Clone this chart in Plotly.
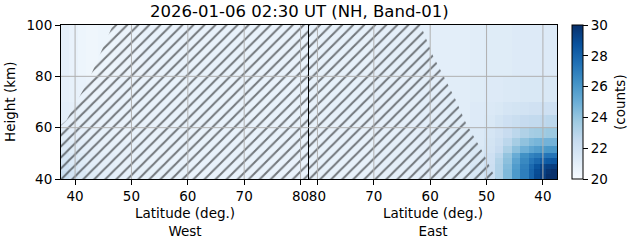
import plotly.graph_objects as go

# ---------------- data ----------------
# West panel: cell edges and values (counts)
west_lat_edges = [37.5, 39, 40.5, 42, 44, 47, 52, 60, 70, 81.5]
west_h_edges = [40, 43, 46, 50, 55, 60, 70, 80, 90, 100]
west_counts = [
    [22.3, 21.9, 21.5, 21.2, 21.0, 20.9, 20.8, 20.7, 20.7],
    [22.0, 21.6, 21.3, 21.1, 20.9, 20.8, 20.8, 20.7, 20.7],
    [21.7, 21.4, 21.2, 21.0, 20.9, 20.8, 20.7, 20.7, 20.7],
    [21.4, 21.2, 21.0, 20.9, 20.8, 20.8, 20.7, 20.7, 20.7],
    [21.2, 21.0, 20.9, 20.8, 20.8, 20.7, 20.7, 20.7, 20.7],
    [21.0, 20.9, 20.8, 20.8, 20.7, 20.7, 20.7, 20.7, 20.7],
    [20.9, 20.8, 20.7, 20.6, 20.6, 20.7, 20.7, 20.7, 20.7],
    [20.9, 20.7, 20.5, 20.4, 20.5, 20.6, 20.7, 20.7, 20.7],
    [20.9, 20.7, 20.5, 20.4, 20.5, 20.6, 20.7, 20.7, 20.7],
]

# East panel
east_lat_edges = [37.5, 38.5, 39.5, 40.5, 41.5, 42.5, 44, 45.5, 47, 48.5, 50.5, 53, 57, 62, 70, 81.5]
east_h_edges = [40, 42, 44, 46, 48, 50, 53, 56, 60, 65, 70, 80, 100]
east_counts = [
    [30.3, 30.0, 29.5, 29.0, 28.0, 27.0, 25.9, 24.5, 23.2, 22.2, 21.6, 21.2, 21.0, 20.9, 20.8],
    [30.0, 29.8, 29.4, 28.9, 28.0, 27.0, 25.9, 24.5, 23.2, 22.2, 21.6, 21.2, 21.0, 20.9, 20.8],
    [29.5, 29.4, 29.2, 28.6, 27.8, 26.9, 25.8, 24.4, 23.2, 22.2, 21.6, 21.2, 21.0, 20.9, 20.8],
    [28.5, 28.4, 28.2, 27.8, 27.3, 26.6, 25.5, 24.2, 23.1, 22.1, 21.5, 21.2, 21.0, 20.9, 20.8],
    [27.4, 27.4, 27.3, 27.1, 26.8, 26.3, 25.1, 24.0, 22.8, 22.1, 21.5, 21.2, 21.0, 20.9, 20.8],
    [26.0, 26.0, 25.9, 25.7, 25.4, 24.9, 24.2, 23.3, 22.4, 21.9, 21.5, 21.2, 21.0, 20.9, 20.8],
    [24.8, 24.8, 24.8, 24.7, 24.5, 24.1, 23.5, 22.8, 22.2, 21.8, 21.4, 21.2, 21.0, 20.9, 20.8],
    [23.8, 23.8, 23.7, 23.6, 23.5, 23.2, 22.8, 22.4, 22.0, 21.7, 21.4, 21.2, 21.0, 20.9, 20.8],
    [22.8, 22.8, 22.7, 22.6, 22.6, 22.5, 22.3, 22.1, 21.8, 21.5, 21.3, 21.1, 21.0, 20.9, 20.8],
    [22.1, 22.1, 22.1, 22.0, 22.0, 21.9, 21.8, 21.7, 21.5, 21.4, 21.3, 21.1, 21.0, 20.9, 20.8],
    [21.5, 21.5, 21.5, 21.5, 21.5, 21.5, 21.4, 21.4, 21.3, 21.3, 21.2, 21.1, 21.0, 20.9, 20.8],
    [21.3, 21.3, 21.3, 21.3, 21.3, 21.3, 21.3, 21.2, 21.2, 21.2, 21.1, 21.0, 21.0, 20.9, 20.8],
]

# hatched (no-data) regions
west_hatch_lat = [37.5, 37.5, 38.5, 40.5, 42.5, 44.5, 46.5, 47.0, 81.5, 81.5, 37.5]
west_hatch_h = [40, 61, 63, 71, 79, 89, 99, 100, 100, 40, 40]
east_hatch_lat = [81.5, 81.5, 61.7, 59.5, 57.6, 55.5, 53.7, 50.8, 48.8, 48.3, 81.5]
east_hatch_h = [40, 100, 100, 88, 80, 71, 62, 51, 42, 40, 40]

lat_ticks = [40, 50, 60, 70, 80]
h_ticks = [40, 60, 80, 100]
cbar_ticks = [20, 22, 24, 26, 28, 30]
lat_range = [37.5, 81.5]
h_range = [40, 100]
zmin, zmax = 20, 30

title = "2026-01-06 02:30 UT (NH, Band-01)"

blues = [
    [0.0, "#f7fbff"], [0.125, "#deebf7"], [0.25, "#c6dbef"], [0.375, "#9ecae1"],
    [0.5, "#6baed6"], [0.625, "#4292c6"], [0.75, "#2171b5"], [0.875, "#08519c"],
    [1.0, "#08306b"],
]

FONT = "DejaVu Sans"
W, H = 631, 243
L, R, T, B = 61, 557, 25, 179
pw, ph = R - L, B - T

fig = go.Figure()

fig.add_trace(go.Heatmap(
    x=west_lat_edges, y=west_h_edges, z=west_counts,
    colorscale=blues, zmin=zmin, zmax=zmax, showscale=False,
    xaxis="x", yaxis="y", hoverinfo="skip",
))
fig.add_trace(go.Heatmap(
    x=east_lat_edges, y=east_h_edges, z=east_counts,
    colorscale=blues, zmin=zmin, zmax=zmax, xaxis="x2", yaxis="y2",
    hoverinfo="skip",
    colorbar=dict(
        x=(572 - L) / pw, xanchor="left", xpad=0, y=0.5, yanchor="middle",
        len=ph, lenmode="pixels", thickness=11, thicknessmode="pixels",
        outlinecolor="black", outlinewidth=1, ypad=0,
        tickvals=cbar_ticks, ticks="outside", ticklen=5, tickcolor="black",
        tickfont=dict(family=FONT, size=13.5, color="black"),
    ),
))

# plotly's "/" pattern repeats every size*sqrt(2) px horizontally
pat = dict(shape="/", size=7.8, solidity=0.26, fgcolor="black", bgcolor="rgba(0,0,0,0)")
fig.add_trace(go.Scatter(
    x=west_hatch_lat, y=west_hatch_h, mode="none", fill="toself",
    fillcolor="rgba(0,0,0,0)", fillpattern=pat, xaxis="x", yaxis="y",
    hoverinfo="skip", showlegend=False,
))
fig.add_trace(go.Scatter(
    x=east_hatch_lat, y=east_hatch_h, mode="none", fill="toself",
    fillcolor="rgba(0,0,0,0)", fillpattern=pat, xaxis="x2", yaxis="y2",
    hoverinfo="skip", showlegend=False,
))

axcommon = dict(
    showline=True, mirror=True, linecolor="black", linewidth=1,
    ticks="outside", ticklen=5, tickcolor="black", tickwidth=1,
    showgrid=False, zeroline=False,
    tickfont=dict(family=FONT, size=13.5, color="black"),
)

fig.update_layout(
    width=W, height=H,
    margin=dict(l=L, r=W - R, t=T, b=H - B, pad=0),
    paper_bgcolor="white", plot_bgcolor="white",
    showlegend=False,
    xaxis=dict(domain=[0, 0.5], range=lat_range, tickvals=lat_ticks, anchor="y", **axcommon),
    yaxis=dict(domain=[0, 1], range=h_range, tickvals=h_ticks, anchor="x", **axcommon),
    xaxis2=dict(domain=[0.5, 1], range=lat_range[::-1], tickvals=lat_ticks, anchor="y2", **axcommon),
    yaxis2=dict(domain=[0, 1], range=h_range, tickvals=h_ticks, anchor="x2",
                showticklabels=False, **{k: v for k, v in axcommon.items() if k != "ticks"}, ticks=""),
)

# grid lines drawn above the image, at the tick positions
grid = dict(color="#b0b0b0", width=1)
shapes = []
for xa, ya in (("x", "y"), ("x2", "y2")):
    for t in lat_ticks:
        shapes.append(dict(type="line", xref=xa, yref=ya + " domain", x0=t, x1=t, y0=0, y1=1,
                           line=grid, layer="above"))
    for t in h_ticks[1:-1]:
        shapes.append(dict(type="line", xref=xa + " domain", yref=ya, x0=0, x1=1, y0=t, y1=t,
                           line=grid, layer="above"))
fig.update_layout(shapes=shapes)

ann = [
    dict(text=title, x=(299 - L) / pw, y=1 + (T - 12) / ph, xref="paper", yref="paper",
         xanchor="center", yanchor="middle", showarrow=False,
         font=dict(family=FONT, size=16.5, color="black")),
    dict(text="Height (km)", x=(10 - L) / pw, y=0.5, xref="paper", yref="paper",
         xanchor="center", yanchor="middle", textangle=-90, showarrow=False,
         font=dict(family=FONT, size=13.5, color="black")),
    dict(text="(counts)", x=(620 - L) / pw, y=0.5, xref="paper", yref="paper",
         xanchor="center", yanchor="middle", textangle=-90, showarrow=False,
         font=dict(family=FONT, size=13.5, color="black")),
    dict(text="Latitude (deg.)<br>West", x=0.5, y=-(203 - B) / ph, xref="x domain", yref="paper",
         xanchor="center", yanchor="top", showarrow=False,
         font=dict(family=FONT, size=13.5, color="black")),
    dict(text="Latitude (deg.)<br>East", x=0.5, y=-(203 - B) / ph, xref="x2 domain", yref="paper",
         xanchor="center", yanchor="top", showarrow=False,
         font=dict(family=FONT, size=13.5, color="black")),
]
fig.update_layout(annotations=ann)

fig.write_html("out.html")
